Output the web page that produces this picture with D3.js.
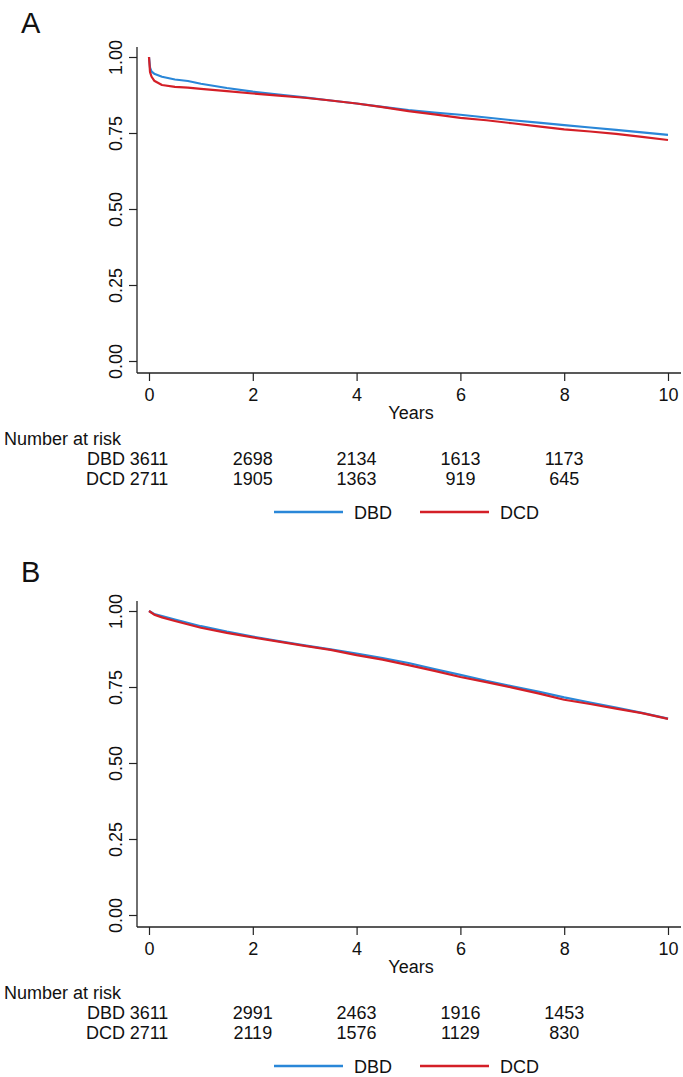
<!DOCTYPE html>
<html>
<head>
<meta charset="utf-8">
<script src="https://cdn.jsdelivr.net/npm/d3@7"></script>
<style>
  body { margin: 0; background: #fff; }
  svg text { font-family: "Liberation Sans", Arial, Helvetica, sans-serif; fill: #111; }
</style>
</head>
<body>
<svg id="chart" width="683" height="1077"></svg>
<script>
// series names and colours
const GROUPS = ["DBD", "DCD"];
const COLORS = { DBD: "#2a87d8", DCD: "#d41f27" };

// tick labels
const X_TICKS = [0, 2, 4, 6, 8, 10];
const Y_TICKS = [0, 0.25, 0.5, 0.75, 1];
const RISK_TIMES = [0, 2, 4, 6, 8];

// panel A: survival
const timesA = [0, 0.02, 0.05, 0.1, 0.25, 0.5, 0.75, 1, 1.5, 2, 2.5, 3, 3.5, 4, 4.5, 5, 5.5, 6, 6.5, 7, 7.5, 8, 8.5, 9, 9.5, 10];
const dbdA = [1.0, 0.965, 0.952, 0.945, 0.935, 0.926, 0.921, 0.912, 0.898, 0.886, 0.876, 0.867, 0.857, 0.847, 0.836, 0.825, 0.817, 0.810, 0.801, 0.792, 0.784, 0.776, 0.768, 0.760, 0.752, 0.744];
const dcdA = [1.0, 0.950, 0.935, 0.922, 0.908, 0.902, 0.899, 0.895, 0.888, 0.880, 0.873, 0.866, 0.857, 0.847, 0.835, 0.822, 0.811, 0.800, 0.792, 0.782, 0.772, 0.762, 0.755, 0.747, 0.737, 0.727];
const riskA = { DBD: [3611, 2698, 2134, 1613, 1173], DCD: [2711, 1905, 1363, 919, 645] };

// panel B
const timesB = [0, 0.1, 0.25, 0.5, 1, 1.5, 2, 2.5, 3, 3.5, 4, 4.5, 5, 5.5, 6, 6.5, 7, 7.5, 8, 8.5, 9, 9.5, 10];
const dbdB = [1.0, 0.990, 0.983, 0.972, 0.950, 0.932, 0.916, 0.901, 0.887, 0.874, 0.860, 0.845, 0.829, 0.809, 0.790, 0.770, 0.752, 0.735, 0.716, 0.699, 0.682, 0.665, 0.646];
const dcdB = [1.0, 0.988, 0.979, 0.967, 0.945, 0.928, 0.913, 0.899, 0.885, 0.872, 0.855, 0.840, 0.822, 0.803, 0.783, 0.766, 0.748, 0.729, 0.708, 0.694, 0.679, 0.664, 0.645];
const riskB = { DBD: [3611, 2991, 2463, 1916, 1453], DCD: [2711, 2119, 1576, 1129, 830] };

const svg = d3.select("#chart");
const FS = 18;

const x = d3.scaleLinear().domain([0, 10]).range([149, 668]);
const y = d3.scaleLinear().domain([0, 1]).range([361, 57]);

const AXIS_X = 137, AXIS_TOP = 47, AXIS_Y = 373, AXIS_RIGHT = 681;

function drawPanel(label, dy, labelY, times, series, risk) {
  const g = svg.append("g").attr("transform", `translate(0,${dy})`);

  g.append("text")
    .attr("x", 21).attr("y", labelY - dy)
    .attr("font-size", 29)
    .text(label);

  // axes lines (stata style, plot region margin)
  g.append("line")
    .attr("x1", AXIS_X).attr("x2", AXIS_X)
    .attr("y1", AXIS_TOP).attr("y2", AXIS_Y)
    .attr("stroke", "#222").attr("stroke-width", 1.3);
  g.append("line")
    .attr("x1", AXIS_X).attr("x2", AXIS_RIGHT)
    .attr("y1", AXIS_Y).attr("y2", AXIS_Y)
    .attr("stroke", "#222").attr("stroke-width", 1.3);

  // y axis
  const ya = g.append("g")
    .attr("transform", `translate(${AXIS_X},0)`)
    .call(d3.axisLeft(y).tickValues(Y_TICKS).tickSize(8).tickSizeOuter(0).tickFormat(d3.format(".2f")));
  ya.select(".domain").remove();
  ya.selectAll(".tick line").attr("stroke", "#222").attr("stroke-width", 1.2);
  ya.selectAll(".tick text")
    .attr("font-size", FS).attr("font-family", null).attr("fill", "#111")
    .attr("x", 0).attr("dy", null)
    .attr("text-anchor", "middle")
    .attr("transform", "translate(-15,0) rotate(-90)");

  // x axis
  const xa = g.append("g")
    .attr("transform", `translate(0,${AXIS_Y})`)
    .call(d3.axisBottom(x).tickValues(X_TICKS).tickSize(8).tickSizeOuter(0).tickFormat(d3.format("d")));
  xa.select(".domain").remove();
  xa.selectAll(".tick line").attr("stroke", "#222").attr("stroke-width", 1.2);
  xa.selectAll(".tick text")
    .attr("font-size", FS).attr("font-family", null).attr("fill", "#111")
    .attr("y", 28).attr("dy", null);

  g.append("text")
    .attr("x", (AXIS_X + AXIS_RIGHT) / 2 + 2).attr("y", AXIS_Y + 46)
    .attr("text-anchor", "middle").attr("font-size", FS)
    .text("Years");

  // curves
  const line = d3.line()
    .x((d, i) => x(times[i]))
    .y(d => y(d));
  GROUPS.forEach((name, k) => {
    g.append("path")
      .datum(series[k])
      .attr("d", line)
      .attr("fill", "none")
      .attr("stroke", COLORS[name])
      .attr("stroke-width", 2.2)
      .attr("stroke-linejoin", "round");
  });

  // number at risk
  g.append("text")
    .attr("x", 4).attr("y", AXIS_Y + 72)
    .attr("font-size", FS)
    .text("Number at risk");
  GROUPS.forEach((name, k) => {
    const rowY = AXIS_Y + 92 + k * 20;
    g.append("text")
      .attr("x", 125).attr("y", rowY)
      .attr("text-anchor", "end").attr("font-size", FS)
      .text(name);
    g.selectAll(null)
      .data(risk[name])
      .enter()
      .append("text")
      .attr("x", (d, i) => x(RISK_TIMES[i]))
      .attr("y", rowY)
      .attr("text-anchor", "middle")
      .attr("font-size", FS)
      .text(d => d);
  });

  // legend
  const legX = [274, 420];
  GROUPS.forEach((name, k) => {
    g.append("line")
      .attr("x1", legX[k]).attr("x2", legX[k] + 69)
      .attr("y1", AXIS_Y + 139).attr("y2", AXIS_Y + 139)
      .attr("stroke", COLORS[name]).attr("stroke-width", 2.4);
    g.append("text")
      .attr("x", legX[k] + 80).attr("y", AXIS_Y + 146)
      .attr("font-size", FS)
      .text(name);
  });
}

drawPanel("A", 0, 32.5, timesA, [dbdA, dcdA], riskA);
drawPanel("B", 554, 581.5, timesB, [dbdB, dcdB], riskB);
</script>
</body>
</html>
